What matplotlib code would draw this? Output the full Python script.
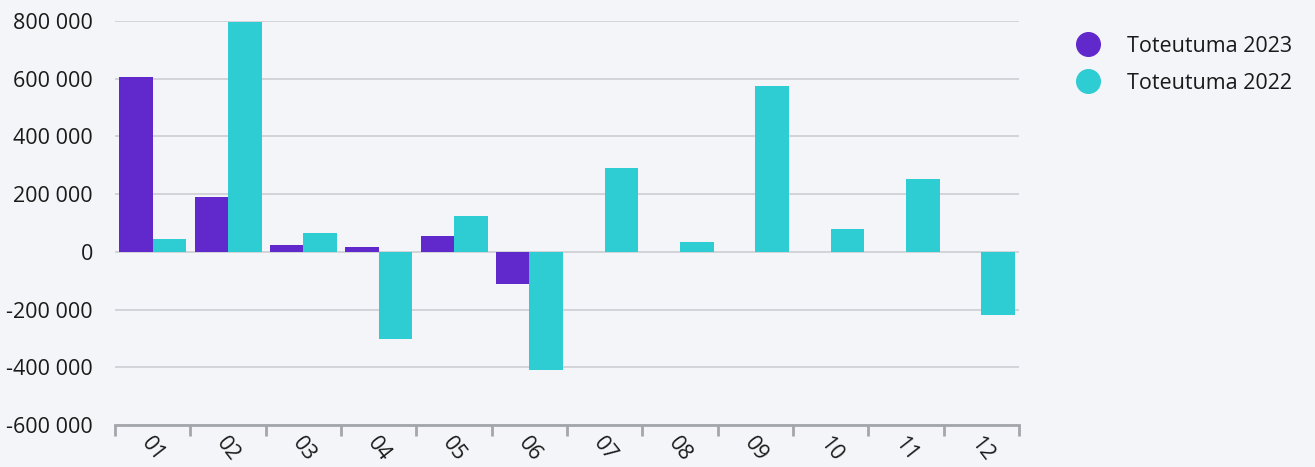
import matplotlib
matplotlib.use("Agg")
import matplotlib.pyplot as plt
import numpy as np
from matplotlib.lines import Line2D

plt.rcParams['font.family'] = ['Open Sans', 'DejaVu Sans']

months = ["01", "02", "03", "04", "05", "06", "07", "08", "09", "10", "11", "12"]
toteutuma_2023 = [606000, 190000, 24000, 17000, 55000, -110000, np.nan, np.nan, np.nan, np.nan, np.nan, np.nan]
toteutuma_2022 = [45000, 797000, 64000, -301000, 125000, -408000, 291000, 35000, 575000, 80000, 253000, -218000]
yticks = [-600000, -400000, -200000, 0, 200000, 400000, 600000, 800000]
series_names = ["Toteutuma 2023", "Toteutuma 2022"]

c23 = "#6128CC"
c22 = "#2ECCD3"
bg = "#F4F5F9"

fig = plt.figure(figsize=(13.15, 4.67), dpi=100, facecolor=bg)
ax = fig.add_axes([0.0875, 0.09, 0.6875, 0.865], facecolor=bg)

x = np.arange(len(months))
w = 0.445
ax.bar(x - w / 2, toteutuma_2023, width=w, color=c23, zorder=3)
ax.bar(x + w / 2, toteutuma_2022, width=w, color=c22, zorder=3)

ax.set_xlim(-0.5, len(months) - 0.5)
ax.set_ylim(yticks[0], yticks[-1])
ax.set_yticks(yticks)
ax.set_yticklabels([f"{v:,}".replace(",", " ") for v in yticks])
ax.grid(axis="y", color="#D2D4DA", linewidth=1.4, zorder=0)
ax.tick_params(axis="y", length=0, labelsize=15.5, labelcolor="#1a1a1a", pad=16)

ax.set_xticks(np.arange(-0.5, len(months), 1.0))
ax.set_xticklabels([])
ax.set_xticks(x, minor=True)
ax.set_xticklabels(months, minor=True, rotation=-52, ha="center", va="top",
                   fontsize=15.5, color="#1a1a1a")
ax.tick_params(axis="x", which="major", length=8, width=2, color="#A3A6AB", direction="out")
ax.tick_params(axis="x", which="minor", length=0, pad=6)

for s in ["top", "right", "left"]:
    ax.spines[s].set_visible(False)
ax.spines["bottom"].set_color("#A3A6AB")
ax.spines["bottom"].set_linewidth(2)

handles = [Line2D([], [], marker="o", linestyle="", markersize=17, color=c23),
           Line2D([], [], marker="o", linestyle="", markersize=17, color=c22)]
leg = fig.legend(handles, series_names, loc="upper left", bbox_to_anchor=(0.8025, 0.965),
                 frameon=False, fontsize=15.5, handletextpad=1.25, labelspacing=0.75,
                 handlelength=1.2)
for t in leg.get_texts():
    t.set_color("#1a1a1a")

fig.savefig("out.png", dpi=100, facecolor=bg)
